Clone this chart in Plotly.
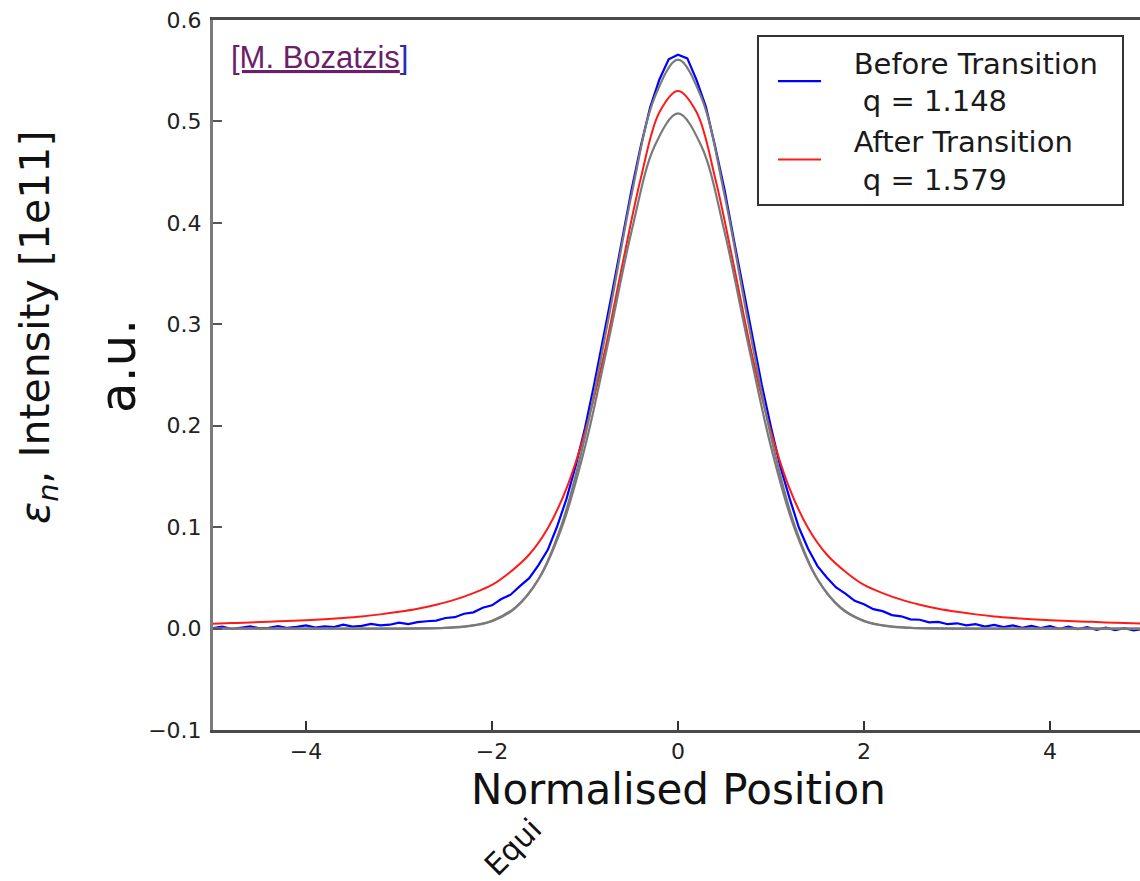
import plotly.graph_objects as go

# ---------------- data ----------------
x_blue = [-5.0, -4.9, -4.8, -4.7, -4.6, -4.5, -4.4, -4.3, -4.2, -4.1,
          -4.0, -3.9, -3.8, -3.7, -3.6, -3.5, -3.4, -3.3, -3.2, -3.1,
          -3.0, -2.9, -2.8, -2.7, -2.6, -2.5, -2.4, -2.3, -2.2, -2.1,
          -2.0, -1.9, -1.8, -1.7, -1.6, -1.5, -1.4, -1.3, -1.2, -1.1,
          -1.0, -0.9, -0.8, -0.7, -0.6, -0.5, -0.4, -0.3, -0.2, -0.1,
          0.0, 0.1, 0.2, 0.3, 0.4, 0.5, 0.6, 0.7, 0.8, 0.9,
          1.0, 1.1, 1.2, 1.3, 1.4, 1.5, 1.6, 1.7, 1.8, 1.9,
          2.0, 2.1, 2.2, 2.3, 2.4, 2.5, 2.6, 2.7, 2.8, 2.9,
          3.0, 3.1, 3.2, 3.3, 3.4, 3.5, 3.6, 3.7, 3.8, 3.9,
          4.0, 4.1, 4.2, 4.3, 4.4, 4.5, 4.6, 4.7, 4.8, 4.9, 5.0]
y_blue = [0.0005, 0.0019, -0.0004, 0.0012, 0.0021, 0.0003, 0.0008, 0.0024, 0.0006, 0.0017,
          0.0031, 0.0009, 0.0022, 0.0014, 0.0038, 0.0019, 0.0027, 0.0046, 0.0031, 0.0038,
          0.0058, 0.0044, 0.0063, 0.0072, 0.0079, 0.0104, 0.0112, 0.0146, 0.0160, 0.0205,
          0.0229, 0.0291, 0.0334, 0.0418, 0.0497, 0.0625, 0.0776, 0.1006, 0.1276, 0.1606,
          0.1977, 0.2414, 0.2866, 0.3353, 0.3838, 0.4324, 0.4757, 0.5136, 0.5414, 0.5612,
          0.5658, 0.5621, 0.5407, 0.5143, 0.4751, 0.4330, 0.3836, 0.3355, 0.2871, 0.2406,
          0.1984, 0.1598, 0.1284, 0.0996, 0.0784, 0.0616, 0.0504, 0.0406, 0.0345, 0.0274,
          0.0240, 0.0192, 0.0172, 0.0133, 0.0121, 0.0091, 0.0087, 0.0062, 0.0066, 0.0043,
          0.0052, 0.0031, 0.0044, 0.0019, 0.0037, 0.0015, 0.0031, 0.0008, 0.0027, 0.0004,
          0.0023, -0.0002, 0.0018, -0.0005, 0.0015, -0.0013, 0.0009, -0.0016, 0.0004, -0.0019, -0.0003]

x_red = [-5.0, -4.8, -4.6, -4.4, -4.2, -4.0, -3.8, -3.6, -3.4, -3.2,
         -3.0, -2.8, -2.6, -2.4, -2.2, -2.0, -1.8, -1.6, -1.4, -1.2,
         -1.0, -0.8, -0.6, -0.4, -0.2, 0.0, 0.2, 0.4, 0.6, 0.8,
         1.0, 1.2, 1.4, 1.6, 1.8, 2.0, 2.2, 2.4, 2.6, 2.8,
         3.0, 3.2, 3.4, 3.6, 3.8, 4.0, 4.2, 4.4, 4.6, 4.8, 5.0]
y_red = [0.0048, 0.0054, 0.0060, 0.0068, 0.0075, 0.0083, 0.0093, 0.0105, 0.0120, 0.0140,
         0.0165, 0.0195, 0.0235, 0.0285, 0.0350, 0.0430, 0.0560, 0.0730, 0.0990, 0.1380,
         0.1940, 0.2680, 0.3580, 0.4440, 0.5090, 0.5300, 0.5090, 0.4440, 0.3580, 0.2680,
         0.1940, 0.1380, 0.0990, 0.0730, 0.0560, 0.0430, 0.0350, 0.0285, 0.0235, 0.0195,
         0.0165, 0.0140, 0.0120, 0.0105, 0.0093, 0.0083, 0.0075, 0.0068, 0.0061, 0.0055, 0.0050]

x_fit = [-5.0, -4.75, -4.5, -4.25, -4.0, -3.75, -3.5, -3.25, -3.0, -2.75,
         -2.5, -2.25, -2.0, -1.75, -1.5, -1.25, -1.0, -0.75, -0.5, -0.25,
         0.0, 0.25, 0.5, 0.75, 1.0, 1.25, 1.5, 1.75, 2.0, 2.25,
         2.5, 2.75, 3.0, 3.25, 3.5, 3.75, 4.0, 4.25, 4.5, 4.75, 5.0]
y_fit_before = [0.0, 0.0, 0.0, 0.0, 0.0, 0.0, 0.0, 0.0, 0.0, 0.0001,
                0.0006, 0.0023, 0.0073, 0.0201, 0.0486, 0.1027, 0.1892, 0.3044, 0.4276, 0.5240,
                0.5610, 0.5240, 0.4276, 0.3044, 0.1892, 0.1027, 0.0486, 0.0201, 0.0073, 0.0023,
                0.0006, 0.0001, 0.0, 0.0, 0.0, 0.0, 0.0, 0.0, 0.0, 0.0, 0.0]
y_fit_after = [0.0, 0.0, 0.0, 0.0, 0.0, 0.0, 0.0, 0.0, 0.0, 0.0002,
               0.0008, 0.0026, 0.0078, 0.0208, 0.0486, 0.0996, 0.1791, 0.2826, 0.3914, 0.4760,
               0.5080, 0.4760, 0.3914, 0.2826, 0.1791, 0.0996, 0.0486, 0.0208, 0.0078, 0.0026,
               0.0008, 0.0002, 0.0, 0.0, 0.0, 0.0, 0.0, 0.0, 0.0, 0.0, 0.0]

name_before = "   Before Transition  <br>    q = 1.148"
name_after = "   After Transition<br>    q = 1.579"

x_tickvals = [-4, -2, 0, 2, 4]
x_ticktext = ["\u22124", "\u22122", "0", "2", "4"]
y_tickvals = [-0.1, 0.0, 0.1, 0.2, 0.3, 0.4, 0.5, 0.6]
y_ticktext = ["\u22120.1", "0.0", "0.1", "0.2", "0.3", "0.4", "0.5", "0.6"]

# ---------------- figure ----------------
FONT = "DejaVu Sans"
W, H = 1140, 881
L, R, T, B = 213, 0, 20, 151
PW, PH = W - L - R, H - T - B


def px(xp):
    return (xp - L) / PW


def py(yp):
    return (H - B - yp) / PH


fig = go.Figure()
fig.add_trace(go.Scatter(x=x_blue, y=y_blue, mode="lines", name=name_before,
                         line=dict(color="#0000ff", width=2.2)))
fig.add_trace(go.Scatter(x=x_red, y=y_red, mode="lines", name=name_after,
                         line=dict(color="#ff1a1a", width=2, shape="spline")))
fig.add_trace(go.Scatter(x=x_fit, y=y_fit_before, mode="lines", showlegend=False,
                         line=dict(color="#7a7a7a", width=2.2, shape="spline")))
fig.add_trace(go.Scatter(x=x_fit, y=y_fit_after, mode="lines", showlegend=False,
                         line=dict(color="#7a7a7a", width=2.2, shape="spline")))

fig.update_layout(
    width=W, height=H,
    margin=dict(l=L, r=R, t=T, b=B, autoexpand=False),
    paper_bgcolor="white", plot_bgcolor="white",
    font=dict(family=FONT, color="#222222"),
    showlegend=True,
    legend=dict(x=px(757), y=py(35), xanchor="left", yanchor="top",
                bgcolor="white", bordercolor="#333333", borderwidth=2,
                font=dict(family=FONT, size=29, color="#1a1a1a"),
                itemwidth=43, indentation=14, tracegroupgap=2),
)

fig.update_xaxes(range=[-5, -5 + PW / 93.0], showgrid=False, zeroline=False,
                 showline=True, linecolor="#4a4a4a", linewidth=2.5, mirror=True,
                 ticks="inside", ticklen=9, tickwidth=1.5, tickcolor="#333333",
                 tickvals=x_tickvals, ticktext=x_ticktext, ticklabelstandoff=0,
                 tickfont=dict(family=FONT, size=22, color="#222222"))
fig.update_yaxes(range=[-0.1, 0.6], showgrid=False, zeroline=False,
                 showline=True, linecolor="#7a7a7a", linewidth=3,
                 ticks="inside", ticklen=9, tickwidth=1.5, tickcolor="#555555",
                 tickvals=y_tickvals, ticktext=y_ticktext, ticklabelstandoff=4,
                 tickfont=dict(family=FONT, size=22, color="#222222"))

annotations = [
    dict(text="Normalised Position", x=px(678), y=py(790), xref="paper", yref="paper",
         xanchor="center", yanchor="middle", showarrow=False,
         font=dict(family=FONT, size=42, color="#111111")),
    dict(text="<i>\u03b5</i><sub><i>n</i></sub>, Intensity [1e11]", x=px(38), y=py(328),
         xref="paper", yref="paper", xanchor="center", yanchor="middle",
         showarrow=False, textangle=-90,
         font=dict(family=FONT, size=41, color="#111111")),
    dict(text="a.u.", x=px(118), y=py(366), xref="paper", yref="paper",
         xanchor="center", yanchor="middle", showarrow=False, textangle=-90,
         font=dict(family=FONT, size=50, color="#111111")),
    dict(text="<u>[M. Bozatzis<span style='color:#2b2bb0'>]</span></u>",
         x=px(229), y=py(57), xref="paper", yref="paper",
         xanchor="left", yanchor="middle", showarrow=False,
         font=dict(family="Liberation Sans", size=31, color="#6b1f6b")),
    dict(text="Equi", x=px(512), y=py(847), xref="paper", yref="paper",
         xanchor="center", yanchor="middle", showarrow=False, textangle=-45,
         font=dict(family=FONT, size=30, color="#111111")),
]
fig.update_layout(annotations=annotations)

fig.write_html("out.html", config={"displayModeBar": False},
               post_script="document.body.style.margin='0';")
